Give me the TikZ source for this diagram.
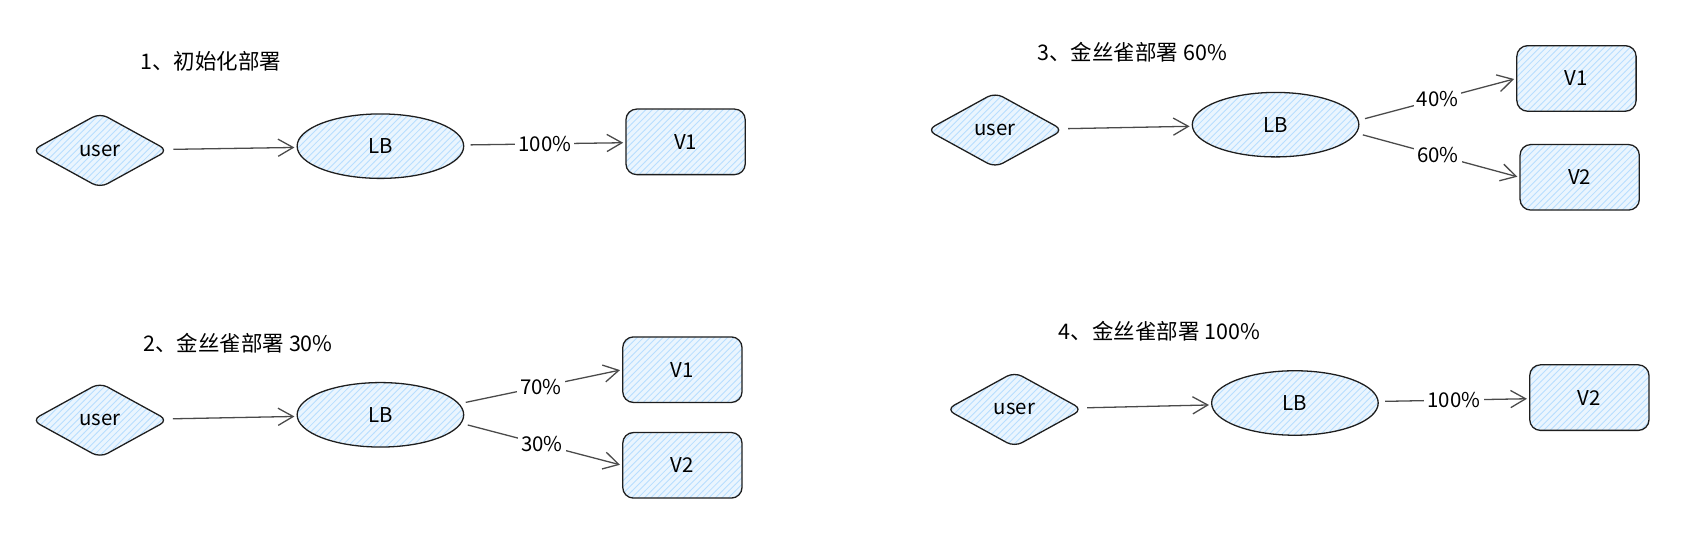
\documentclass[tikz,border=0pt]{standalone}
\usepackage{fontspec}
\setmainfont{Noto Sans CJK SC}
\usetikzlibrary{shapes.geometric,arrows.meta,patterns}
\definecolor{hatch}{HTML}{B8DEFF}
\definecolor{pale}{HTML}{EAF5FE}
\definecolor{ink}{HTML}{1E1E1E}
\definecolor{arr}{HTML}{4A4A4A}
\begin{document}
\begin{tikzpicture}[x=0.5pt,y=-0.5pt,
  font=\fontsize{9.5}{11}\selectfont,
  shapebase/.style={draw=ink,line width=0.6pt,preaction={fill=pale},pattern=north east lines,pattern color=hatch,inner sep=0pt},
  userbox/.style={shapebase,diamond,minimum width=63.5pt,minimum height=35pt,rounded corners=4pt},
  lbbox/.style={shapebase,ellipse,minimum width=77.5pt,minimum height=30pt},
  vbox/.style={shapebase,rectangle,rounded corners=5pt,minimum width=55.5pt,minimum height=30.5pt},
  conn/.style={draw=arr,line width=0.6pt,-{Straight Barb[length=7pt,width=8pt]},shorten <=3pt,shorten >=1pt},
  lbl/.style={fill=white,inner sep=1.5pt,text=black},
  title/.style={anchor=west,inner sep=0pt,font=\fontsize{10}{12}\selectfont}]
\useasboundingbox (0,0) rectangle (1568,499);

% Panel 1
\node[title] (t1) at (130,57) {1、初始化部署};
\node[userbox] (u1) at (93,140) {user};
\node[lbbox] (lb1) at (354,136) {LB};
\node[vbox] (v1a) at (638,132) {V1};
\draw[conn] (u1) -- (lb1);
\draw[conn] (lb1) -- node[lbl] {100\%} (v1a);

% Panel 2
\node[title] (t2) at (133,319) {2、金丝雀部署 30\%};
\node[userbox] (u2) at (93,391) {user};
\node[lbbox] (lb2) at (354,386) {LB};
\node[vbox] (v1b) at (635,344) {V1};
\node[vbox] (v2b) at (635,433) {V2};
\draw[conn] (u2) -- (lb2);
\draw[conn] (lb2.8) -- node[lbl] {70\%} (v1b.west);
\draw[conn] (lb2.-6) -- node[lbl] {30\%} (v2b.west);

% Panel 3
\node[title] (t3) at (965,49) {3、金丝雀部署 60\%};
\node[userbox] (u3) at (926,121) {user};
\node[lbbox] (lb3) at (1187,116) {LB};
\node[vbox] (v3a) at (1467,73) {V1};
\node[vbox] (v3b) at (1470,165) {V2};
\draw[conn] (u3) -- (lb3);
\draw[conn] (lb3.3) -- node[lbl] {40\%} (v3a.west);
\draw[conn] (lb3.-6) -- node[lbl] {60\%} (v3b.west);

% Panel 4
\node[title] (t4) at (985,308) {4、金丝雀部署 100\%};
\node[userbox] (u4) at (944,381) {user};
\node[lbbox] (lb4) at (1205,375) {LB};
\node[vbox] (v4) at (1479,370) {V2};
\draw[conn] (u4) -- (lb4);
\draw[conn] (lb4) -- node[lbl] {100\%} (v4);
\end{tikzpicture}
\end{document}
